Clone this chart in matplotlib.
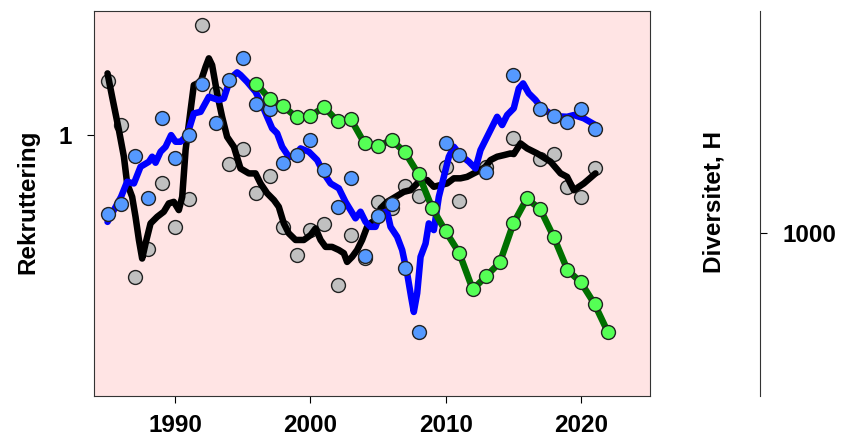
import numpy as np
import matplotlib
matplotlib.use("Agg")
import matplotlib.pyplot as plt
from matplotlib.ticker import FixedLocator, NullLocator, FixedFormatter

plt.rcParams['font.family'] = ['Liberation Sans', 'DejaVu Sans']
plt.rcParams['font.weight'] = 'bold'

years = list(range(1985, 2022))
nan = np.nan
grey_vals = [1.491, 1.077, 0.350, 0.429, 0.699, 0.507, 0.621, 2.263, 1.362, 0.805,
             0.902, 0.651, 0.737, 0.505, 0.412, 0.494, 0.519, 0.330, 0.477, 0.404,
             0.608, 0.584, 0.684, 0.638, nan, 0.791, 0.613, nan, 0.791, nan,
             0.980, nan, 0.837, 0.869, 0.679, 0.633, 0.783]
blue_vals = [0.557, 0.600, 0.856, 0.629, 1.137, 0.845, 1.000, 1.456, 1.090, 1.503,
             1.773, 1.258, 1.212, 0.815, 0.862, 0.964, 0.772, 0.587, 0.726, 0.409,
             0.550, 0.600, 0.373, 0.233, nan, 0.944, 0.860, nan, 0.759, nan,
             1.565, nan, 1.212, 1.155, 1.099, 1.209, 1.043]

green_years = list(range(1996, 2023))
green_vals = [1298, 1268, 1253, 1231, 1234, 1252, 1224, 1227, 1179, 1174,
              1186, 1161, 1117, 1050, 1003, 960, 887, 914, 941, 1019,
              1069, 1047, 991, 926, 901, 858, 801]

blue_line_t = [1985.0, 1986.0, 1986.45, 1986.95, 1987.44, 1988.06, 1988.30, 1988.55, 1988.92, 1989.29,
               1989.70, 1990.03, 1990.40, 1990.89, 1991.38, 1991.88, 1992.49, 1992.86, 1993.23, 1993.60,
               1993.84, 1994.09, 1994.58, 1994.83, 1995.32, 1995.94, 1996.43, 1996.80, 1997.17, 1997.54,
               1997.91, 1998.40, 1998.77, 1999.27, 1999.88, 2000.50, 2000.99, 2001.49, 2002.10, 2002.59,
               2002.96, 2003.33, 2003.70, 2004.07, 2004.44, 2004.81, 2005.18, 2005.67, 2005.92, 2006.41,
               2006.78, 2007.15, 2007.44, 2007.64, 2007.89, 2008.14, 2008.51, 2008.75, 2009.12, 2009.49,
               2009.86, 2010.23, 2010.60, 2011.09, 2011.71, 2012.20, 2012.57, 2012.94, 2013.31, 2013.80,
               2014.17, 2014.54, 2015.03, 2015.40, 2015.72, 2016.14, 2016.64, 2017.01, 2017.99, 2018.97,
               2019.47, 2020.21, 2021.07]
blue_line_v = [0.526, 0.633, 0.708, 0.699, 0.791, 0.821, 0.852, 0.815, 0.884, 0.917,
               1.000, 0.952, 0.952, 1.000, 1.174, 1.188, 1.328, 1.312, 1.296, 1.312,
               1.413, 1.522, 1.591, 1.560, 1.483, 1.378, 1.249, 1.145, 1.051, 1.013,
               0.917, 0.852, 0.852, 0.906, 0.884, 0.831, 0.753, 0.699, 0.674, 0.610,
               0.574, 0.540, 0.567, 0.526, 0.507, 0.507, 0.560, 0.567, 0.507, 0.471,
               0.427, 0.359, 0.302, 0.270, 0.310, 0.406, 0.448, 0.520, 0.495, 0.633,
               0.734, 0.852, 0.917, 0.862, 0.821, 0.781, 0.895, 0.964, 1.038, 1.145,
               1.077, 1.160, 1.219, 1.413, 1.466, 1.362, 1.296, 1.233, 1.151, 1.145,
               1.160, 1.132, 1.077]

black_line_t = [1985.0, 1985.34, 1985.84, 1986.21, 1986.45, 1986.82, 1987.07, 1987.32, 1987.56, 1987.81,
                1988.18, 1988.67, 1989.16, 1989.53, 1989.90, 1990.27, 1990.52, 1990.77, 1991.14, 1991.38,
                1991.88, 1992.25, 1992.49, 1992.73, 1993.10, 1993.47, 1993.84, 1994.34, 1994.83, 1995.45,
                1995.94, 1996.31, 1996.80, 1997.30, 1997.66, 1998.03, 1998.40, 1998.90, 1999.51, 2000.01,
                2000.38, 2000.75, 2001.12, 2001.60, 2002.10, 2002.47, 2002.71, 2003.08, 2003.45, 2003.82,
                2004.19, 2004.56, 2005.06, 2005.18, 2005.67, 2006.29, 2006.90, 2007.40, 2008.01, 2008.63,
                2009.12, 2009.62, 2010.10, 2010.60, 2011.09, 2011.58, 2012.07, 2012.57, 2012.94, 2013.31,
                2013.80, 2014.29, 2014.79, 2015.03, 2015.53, 2016.02, 2016.76, 2017.75, 2018.49, 2018.97,
                2019.47, 2020.21, 2021.07]
black_line_v = [1.579, 1.328, 1.038, 0.852, 0.699, 0.633, 0.546, 0.460, 0.401, 0.448,
                0.520, 0.546, 0.567, 0.603, 0.610, 0.574, 0.633, 0.895, 1.203, 1.448,
                1.483, 1.658, 1.765, 1.679, 1.362, 1.145, 0.987, 0.917, 0.781, 0.753,
                0.753, 0.699, 0.650, 0.618, 0.588, 0.520, 0.483, 0.460, 0.460, 0.477,
                0.501, 0.460, 0.437, 0.437, 0.427, 0.417, 0.391, 0.406, 0.427, 0.460,
                0.507, 0.526, 0.533, 0.581, 0.610, 0.633, 0.657, 0.665, 0.708, 0.717,
                0.682, 0.691, 0.699, 0.726, 0.726, 0.734, 0.753, 0.772, 0.791, 0.831,
                0.852, 0.862, 0.873, 0.869, 0.940, 0.906, 0.873, 0.821, 0.753, 0.734,
                0.665, 0.699, 0.753]

x_ticks = [1990, 2000, 2010, 2020]
left_ticks = [1]
left_tick_labels = ['1']
right_ticks = [1000]
right_tick_labels = ['1000']

fig = plt.figure(figsize=(8.52, 4.40), dpi=100)
ax = fig.add_axes([94/852, 1-396/440, (650-94)/852, (396-11)/440])
ax.set_facecolor('#ffe4e4')
ax.set_yscale('log')
ax.set_xlim(1984.0, 2025.1)
ax.set_ylim(0.1449, 2.506)

ax.plot(years, grey_vals, 'o', ms=10, mfc='#c0c0c0', mec='#222222', mew=1.0, zorder=2)
ax.plot(black_line_t, black_line_v, '-', color='black', lw=4.7, zorder=3, solid_capstyle='round')
ax.plot(blue_line_t, blue_line_v, '-', color='#0000ff', lw=4.7, zorder=4, solid_capstyle='round')
ax.plot(years, blue_vals, 'o', ms=10, mfc='#5599ff', mec='#222222', mew=1.0, zorder=5)

ax.yaxis.set_major_locator(FixedLocator(left_ticks))
ax.yaxis.set_major_formatter(FixedFormatter(left_tick_labels))
ax.yaxis.set_minor_locator(NullLocator())
ax.set_xticks(x_ticks)
ax.xaxis.set_minor_locator(NullLocator())
ax.tick_params(axis='x', labelsize=17.5, length=5, direction='out', pad=8)
ax.tick_params(axis='y', labelsize=17.5, length=5, direction='out', pad=11)
for s in ax.spines.values():
    s.set_color('#333333')

ax2 = ax.twinx()
ax2.set_ylim(674, 1444)
ax2.plot(green_years, green_vals, '-', color='#007000', lw=4.7, zorder=1)
ax2.plot(green_years, green_vals, 'o', ms=10, mfc='#55ff55', mec='#222222', mew=1.0, zorder=2)
for k in ['top', 'left', 'bottom']:
    ax2.spines[k].set_visible(False)
ax2.spines['right'].set_position(('axes', (760-94)/556))
ax2.spines['right'].set_color('#333333')
ax2.set_yticks(right_ticks)
ax2.set_yticklabels(right_tick_labels)
ax2.tick_params(axis='y', labelsize=17.5, length=5, pad=11)

fig.text(28/852, 1-202/440, 'Rekruttering', rotation=90, ha='center', va='center',
         fontsize=17.5, fontweight='bold')
fig.text(714/852, 1-202/440, 'Diversitet, H', rotation=90, ha='center', va='center',
         fontsize=17.5, fontweight='bold')

fig.savefig('out.png', dpi=100)
